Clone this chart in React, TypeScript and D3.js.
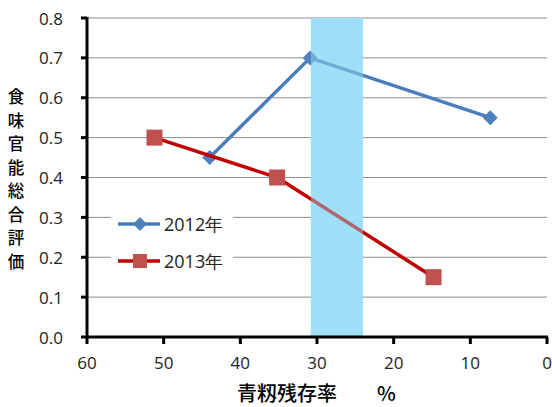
import React from "react";
import * as d3 from "d3";

const xTicks = [60, 50, 40, 30, 20, 10, 0];
const yTicks = [0, 0.1, 0.2, 0.3, 0.4, 0.5, 0.6, 0.7, 0.8];
const series2012X = [44.0, 30.9, 7.4];
const series2012Y = [0.45, 0.7, 0.55];
const series2013X = [51.2, 35.2, 14.8];
const series2013Y = [0.5, 0.4, 0.15];
const bandRange = [30.8, 24.0];
const seriesNames = ["2012年", "2013年"];
const yTitle = "食味官能総合評価";
const xTitle = "青籾残存率　　%";

const W = 552;
const H = 407;
const left = 87;
const right = 547;
const top = 18;
const bottom = 337;

export default function App() {
  const x = d3.scaleLinear().domain([60, 0]).range([left, right]);
  const y = d3.scaleLinear().domain([0, 0.8]).range([bottom, top]);
  const line = d3
    .line<[number, number]>()
    .x((d) => x(d[0]))
    .y((d) => y(d[1]));
  const d2012 = series2012X.map((v, i) => [v, series2012Y[i]] as [number, number]);
  const d2013 = series2013X.map((v, i) => [v, series2013Y[i]] as [number, number]);
  const blue = "#4A7EBB";
  const blueMarker = "#4F81BD";
  const red = "#C00000";
  const redMarker = "#C0504D";
  const band = "#9EE0F8";
  const tickFont = "'Open Sans', 'DejaVu Sans', sans-serif";
  const cjk = "'Noto Sans CJK JP', sans-serif";
  const diamond = (cx: number, cy: number, r: number) =>
    `M${cx},${cy - r}L${cx + r},${cy}L${cx},${cy + r}L${cx - r},${cy}Z`;
  const bx0 = x(bandRange[0]);
  const bx1 = x(bandRange[1]);

  return (
    <svg
      width={W}
      height={H}
      style={{ position: "absolute", left: 0, top: 0, background: "#fff" }}
    >
      <rect x={0} y={0} width={W} height={H} fill="#fff" />
      {yTicks.slice(1).map((t) => (
        <line key={t} x1={left} x2={right} y1={y(t)} y2={y(t)} stroke="#8c8c8c" strokeWidth={1} />
      ))}
      <rect x={bx0} y={top} width={bx1 - bx0} height={bottom - top} fill={band} />
      <rect x={111} y={205} width={122} height={74} fill="#fff" />
      <path d={line(d2012) || ""} fill="none" stroke={blue} strokeWidth={3.5} strokeLinejoin="round" />
      {d2012.map((d, i) => (
        <path key={i} d={diamond(x(d[0]), y(d[1]), 7.5)} fill={blueMarker} />
      ))}
      <path d={line(d2013) || ""} fill="none" stroke={red} strokeWidth={3.5} strokeLinejoin="round" />
      {d2013.map((d, i) => (
        <rect key={i} x={x(d[0]) - 8} y={y(d[1]) - 8} width={16} height={16} fill={redMarker} />
      ))}
      <rect x={bx0} y={top} width={bx1 - bx0} height={bottom - top} fill={band} opacity={0.45} />
      <line x1={left} x2={left} y1={top - 1} y2={bottom + 1} stroke="#000" strokeWidth={3} />
      <line x1={left - 1} x2={right + 1} y1={bottom} y2={bottom} stroke="#000" strokeWidth={3} />
      {yTicks.map((t) => (
        <g key={t}>
          <line x1={left - 6} x2={left} y1={y(t)} y2={y(t)} stroke="#000" strokeWidth={3} />
          <text
            x={63}
            y={y(t)}
            textAnchor="end"
            dominantBaseline="central"
            fontFamily={tickFont}
            fontSize={17}
            fill="#222"
          >
            {t.toFixed(1)}
          </text>
        </g>
      ))}
      {xTicks.map((t) => (
        <g key={t}>
          <line x1={x(t)} x2={x(t)} y1={bottom} y2={bottom + 7} stroke="#000" strokeWidth={3} />
          <text x={x(t)} y={369} textAnchor="middle" fontFamily={tickFont} fontSize={17} fill="#222">
            {t}
          </text>
        </g>
      ))}
      {[0, 1].map((i) => {
        const cy = i === 0 ? 224 : 261;
        return (
          <g key={i}>
            <line x1={118} x2={160} y1={cy} y2={cy} stroke={i === 0 ? blue : red} strokeWidth={3.5} />
            {i === 0 ? (
              <path d={diamond(140, cy, 7)} fill={blueMarker} />
            ) : (
              <rect x={133} y={cy - 7} width={14} height={14} fill={redMarker} />
            )}
            <text x={164} y={cy} dominantBaseline="central" fontFamily={tickFont} fontSize={18} fill="#222">
              {seriesNames[i]}
            </text>
          </g>
        );
      })}
      {Array.from(yTitle).map((c, i) => (
        <text
          key={i}
          x={16}
          y={96 + i * 23.5}
          textAnchor="middle"
          dominantBaseline="central"
          fontFamily={cjk}
          fontSize={16.5}
          fontWeight={500}
          fill="#000"
        >
          {c}
        </text>
      ))}
      <text
        x={237}
        y={401}
        fontFamily={cjk}
        fontSize={20}
        fontWeight={500}
        fill="#000"
      >
        {xTitle}
      </text>
    </svg>
  );
}
